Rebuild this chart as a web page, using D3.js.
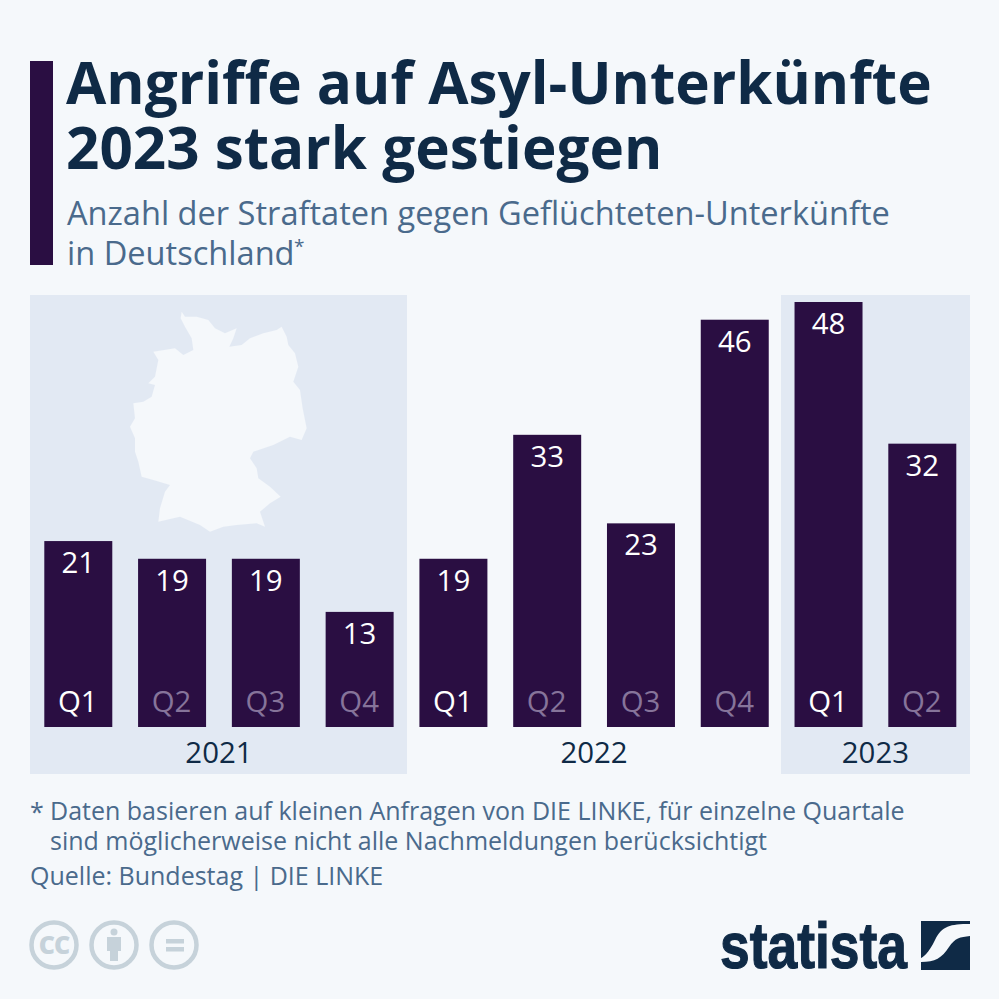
<!DOCTYPE html>
<html>
<head>
<meta charset="utf-8">
<script src="https://cdn.jsdelivr.net/npm/d3@7"></script>
<style>
  html, body { margin: 0; padding: 0; background: #f5f8fb; }
  svg { display: block; }
  text { font-family: "Open Sans", sans-serif; }
</style>
</head>
<body>
<div id="chart"></div>
<script>
// Data
const quarters = ["Q1", "Q2", "Q3", "Q4", "Q1", "Q2", "Q3", "Q4", "Q1", "Q2"];
const years = [2021, 2021, 2021, 2021, 2022, 2022, 2022, 2022, 2023, 2023];
const values = [21, 19, 19, 13, 19, 33, 23, 46, 48, 32];
const yearLabels = [2021, 2022, 2023];
const titleLines = ["Angriffe auf Asyl-Unterkünfte", "2023 stark gestiegen"];
const subtitleLines = ["Anzahl der Straftaten gegen Geflüchteten-Unterkünfte", "in Deutschland"];
const noteLines = ["Daten basieren auf kleinen Anfragen von DIE LINKE, für einzelne Quartale", "sind möglicherweise nicht alle Nachmeldungen berücksichtigt"];
const sourceLine = "Quelle: Bundestag | DIE LINKE";

const purple = "#2a0e42", navy = "#0f2a46", slate = "#4a6a8c", band = "#e2e9f3", bg = "#f5f8fb", grey = "#c6d2da";

const svg = d3.select("#chart").append("svg")
    .attr("width", 999)
    .attr("height", 999)
    .attr("viewBox", "0 0 999 999");

svg.append("rect").attr("width", 999).attr("height", 999).attr("fill", bg);

// Soft edge for the map
svg.append("defs").append("filter").attr("id", "soft")
    .append("feGaussianBlur").attr("stdDeviation", 1.5);

// Scales
const indices = values.map((d, i) => i);
const x = d3.scaleBand().domain(indices).range([44.3, 956.3]).paddingInner(0.275);
const y = d3.scaleLinear().domain([0, 48]).range([727, 302]);

// Header
svg.append("rect").attr("x", 30).attr("y", 61).attr("width", 23).attr("height", 204).attr("fill", purple);

svg.selectAll(".title").data(titleLines).join("text")
    .attr("class", "title")
    .attr("x", 66)
    .attr("y", (d, i) => 104 + i * 65)
    .attr("fill", navy)
    .style("font-size", "58.4px")
    .style("font-weight", 700)
    .text(d => d);

svg.selectAll(".subtitle").data(subtitleLines).join("text")
    .attr("class", "subtitle")
    .attr("x", 67)
    .attr("y", (d, i) => 225 + i * 40)
    .attr("fill", slate)
    .style("font-size", "32.6px")
    .text(d => d);

svg.append("text")
    .attr("x", 294).attr("y", 253)
    .attr("fill", slate)
    .style("font-size", "19px")
    .text("*");

// Year bands behind the bars
svg.append("rect").attr("x", 30).attr("y", 295).attr("width", 377).attr("height", 479).attr("fill", band);
svg.append("rect").attr("x", 781).attr("y", 295).attr("width", 189).attr("height", 479).attr("fill", band);

const germany = [[215,50],[225,65],[260,65],[295,75],[315,100],[345,115],[380,100],[370,130],[358,155],[395,150],[420,130],[460,115],[500,105],[515,95],[530,125],[535,150],[555,175],[565,215],[550,260],[570,285],[578,340],[590,400],[575,435],[540,425],[490,450],[430,470],[420,490],[440,520],[445,550],[480,575],[512,605],[480,625],[450,650],[465,695],[440,685],[380,690],[340,695],[300,710],[270,690],[210,665],[190,670],[145,680],[150,640],[165,590],[180,570],[130,555],[95,545],[85,500],[75,470],[75,430],[60,395],[75,370],[70,325],[100,320],[125,305],[135,270],[115,265],[135,245],[145,195],[130,170],[195,160],[220,180],[250,165],[245,130],[225,95],[212,70]];
svg.append("path")
    .attr("d", d3.line()(germany) + "Z")
    .attr("transform", "translate(110,295) scale(0.3333)")
    .attr("filter", "url(#soft)")
    .attr("fill", bg);

// Bars
svg.selectAll(".bar").data(values).join("rect")
    .attr("class", "bar")
    .attr("x", (d, i) => x(i))
    .attr("y", d => y(d))
    .attr("width", x.bandwidth())
    .attr("height", d => y(0) - y(d))
    .attr("fill", purple);

svg.selectAll(".value").data(values).join("text")
    .attr("class", "value")
    .attr("x", (d, i) => x(i) + x.bandwidth() / 2)
    .attr("y", d => y(d) + 32)
    .attr("text-anchor", "middle")
    .attr("fill", "#ffffff")
    .style("font-size", "29.4px")
    .text(d => d);

svg.selectAll(".quarter").data(quarters).join("text")
    .attr("class", "quarter")
    .attr("x", (d, i) => x(i) + x.bandwidth() / 2 - 0.5)
    .attr("y", 712)
    .attr("text-anchor", "middle")
    .attr("fill", d => d === "Q1" ? "#ffffff" : "#86749a")
    .style("font-size", "29.4px")
    .text(d => d);

// Year labels centred under their group of bars
svg.selectAll(".year").data(yearLabels).join("text")
    .attr("class", "year")
    .attr("x", yr => {
        const idx = indices.filter(i => years[i] === yr);
        return (x(idx[0]) + x(idx[idx.length - 1]) + x.bandwidth()) / 2;
    })
    .attr("y", 763)
    .attr("text-anchor", "middle")
    .attr("fill", navy)
    .style("font-size", "29.4px")
    .text(d => d);

// Footnote and source
svg.append("text").attr("x", 30).attr("y", 821).attr("fill", slate).style("font-size", "25px").text("*");
svg.selectAll(".note").data(noteLines).join("text")
    .attr("class", "note")
    .attr("x", 50)
    .attr("y", (d, i) => 820 + i * 30)
    .attr("fill", slate)
    .style("font-size", "25px")
    .text(d => d);
svg.append("text").attr("x", 30).attr("y", 885).attr("fill", slate).style("font-size", "25px").text(sourceLine);

// Licence icons
const icons = svg.append("g").attr("fill", "none").attr("stroke", grey).attr("stroke-width", 4.5);
[54, 114, 174].forEach(cx => icons.append("circle").attr("cx", cx).attr("cy", 945).attr("r", 22.5));
svg.append("text")
    .attr("x", 54).attr("y", 954)
    .attr("text-anchor", "middle")
    .attr("fill", grey)
    .style("font-size", "25px")
    .style("font-weight", 800)
    .style("letter-spacing", "-1px")
    .text("CC");
const person = svg.append("g").attr("fill", grey);
person.append("circle").attr("cx", 114).attr("cy", 932).attr("r", 3.5);
person.append("rect").attr("x", 107).attr("y", 937).attr("width", 14).attr("height", 14);
person.append("rect").attr("x", 110).attr("y", 951).attr("width", 8).attr("height", 10);
person.append("rect").attr("x", 166).attr("y", 939).attr("width", 18).attr("height", 4.5);
person.append("rect").attr("x", 166).attr("y", 947).attr("width", 18).attr("height", 4.5);

// Statista logo
svg.append("text")
    .attr("x", 720).attr("y", 968)
    .attr("textLength", 187)
    .attr("lengthAdjust", "spacingAndGlyphs")
    .attr("fill", navy)
    .attr("stroke", navy)
    .attr("stroke-width", 1.2)
    .style("font-family", "'Liberation Sans Narrow', 'Liberation Sans', sans-serif")
    .style("font-size", "64px")
    .style("font-weight", 700)
    .text("statista");
svg.append("rect").attr("x", 921).attr("y", 921).attr("width", 49).attr("height", 49).attr("fill", navy);
svg.append("path")
    .attr("d", "M970,924 C950,924 942,926 935,940 C929,953 922,958 921,958 L921,962 C935,962 942,958 949,947 C955,938 960,937 970,936 Z")
    .attr("fill", bg);
</script>
</body>
</html>
